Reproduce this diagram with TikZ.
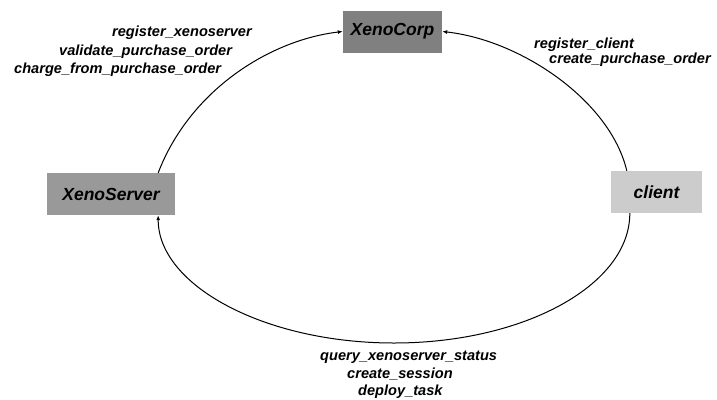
\documentclass[tikz,border=0pt]{standalone}
\usepackage{fontspec}
\setmainfont{Liberation Sans}
\usetikzlibrary{arrows.meta}
\definecolor{corpgray}{HTML}{808080}
\definecolor{servergray}{HTML}{999999}
\definecolor{clientgray}{HTML}{CCCCCC}
\begin{document}
\begin{tikzpicture}[x=1pt,y=-1pt,
  box/.style={inner sep=0pt, font=\fontsize{17.5}{20}\selectfont\bfseries\itshape},
  lbl/.style={inner sep=0pt, anchor=mid west, font=\fontsize{14.6}{17}\selectfont\bfseries\itshape},
  conn/.style={line width=1pt, -{Latex[length=5pt,width=4pt]}}]
\useasboundingbox (0,0) rectangle (717,399);
\node[box, fill=corpgray, minimum width=99pt, minimum height=42pt] (corp) at (392.5,31.5) {XenoCorp};
\node[box, fill=servergray, minimum width=128pt, minimum height=42pt] (server) at (111,194) {XenoServer};
\node[box, fill=clientgray, minimum width=91pt, minimum height=42pt] (client) at (656.5,192) {client};
\node[lbl] (l1) at (112,34) {register\_xenoserver};
\node[lbl] (l2) at (59,52.5) {validate\_purchase\_order};
\node[lbl] (l3) at (14,70.5) {charge\_from\_purchase\_order};
\node[lbl] (r1) at (534,46) {register\_client};
\node[lbl] (r2) at (549,61) {create\_purchase\_order};
\node[lbl] (b1) at (320,358) {query\_xenoserver\_status};
\node[lbl] (b2) at (347,375.5) {create\_session};
\node[lbl] (b3) at (358,393) {deploy\_task};
\coordinate (bot) at (394,343);
\draw[conn] ([xshift=-17pt]server.north east) .. controls (190,90) and (270,40) .. (corp.west);
\draw[conn] ([xshift=16pt]client.north west) .. controls (610,100) and (520,40) .. (corp.east);
\draw[conn] ([xshift=19pt]client.south west) .. controls (630,285) and (524,343) .. (bot)
  .. controls (264,343) and (158,285) .. ([xshift=-17pt]server.south east);
\end{tikzpicture}
\end{document}
